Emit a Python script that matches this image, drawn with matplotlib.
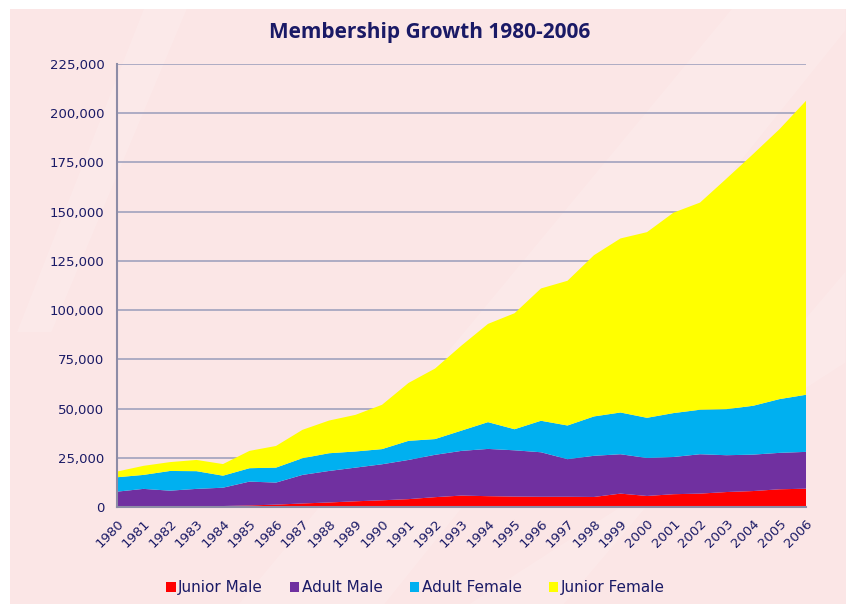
import matplotlib.pyplot as plt
from matplotlib.patches import Rectangle, Polygon, Patch
from matplotlib.ticker import FuncFormatter, MultipleLocator

years = list(range(1980, 2007))

# cumulative tops, turned into layer sizes below
junior_male = [0, 0, 0, 300, 500, 800, 1200, 1800, 2300, 2900, 3400, 4000, 5000, 5800,
               5500, 5300, 5200, 5200, 5100, 6800, 5600, 6500, 6800, 7600, 8100, 9000, 9300]
male_top = [7800, 9200, 8300, 9200, 9800, 12900, 12400, 16300, 18300, 20000, 21700, 23900,
            26500, 28500, 29500, 28800, 27800, 24300, 26000, 26800, 24900, 25400, 26800,
            26300, 26600, 27500, 28000]
female_top = [15100, 16300, 18300, 18200, 15900, 19700, 20000, 24800, 27300, 28200, 29400,
              33600, 34500, 38800, 43100, 39500, 43800, 41400, 46000, 48000, 45300, 47700,
              49400, 49700, 51400, 54800, 57000]
total = [18000, 20900, 22800, 23900, 21800, 28500, 31000, 39200, 43900, 46800, 51900, 63000,
         70300, 82000, 93000, 98400, 111000, 114900, 127900, 136400, 139600, 149500, 154600,
         166800, 179200, 191900, 206300]

adult_male = [m - j for m, j in zip(male_top, junior_male)]
adult_female = [f - m for f, m in zip(female_top, male_top)]
junior_female = [t - f for t, f in zip(total, female_top)]

labels = ['Junior Male', 'Adult Male', 'Adult Female', 'Junior Female']
colors = ['#ff0000', '#7030a0', '#00b0f0', '#ffff00']
navy = '#1a1a66'

fig = plt.figure(figsize=(8.54, 6.04), dpi=100, facecolor='white')

# pink card behind the chart, with a few pale diagonal bands
fig.patches.append(Rectangle((10 / 854, 0), 836 / 854, 1 - 9 / 604,
                             transform=fig.transFigure, facecolor='#fbe6e6',
                             edgecolor='none', zorder=-10))
bands = [[(0.28, 0.0), (0.45, 0.0), (0.99, 0.95), (0.99, 0.99), (0.86, 0.99)],
         [(0.55, 0.0), (0.66, 0.0), (0.99, 0.55), (0.99, 0.40)],
         [(0.02, 0.45), (0.06, 0.45), (0.22, 0.99), (0.17, 0.99)]]
for b in bands:
    fig.patches.append(Polygon(b, closed=True, transform=fig.transFigure,
                               facecolor='white', alpha=0.14, edgecolor='none', zorder=-9))

ax = fig.add_axes([117 / 854, 1 - 507 / 604, (806 - 117) / 854, (507 - 64) / 604])
ax.set_facecolor('none')

ax.stackplot(years, junior_male, adult_male, adult_female, junior_female,
             colors=colors, linewidth=0, zorder=3)

ax.set_xlim(1980, 2006)
ax.set_ylim(0, 225000)
ax.yaxis.set_major_locator(MultipleLocator(25000))
ax.yaxis.set_major_formatter(FuncFormatter(lambda v, p: f'{int(v):,}'))
ax.grid(axis='y', color='#adacc4', linewidth=1.4, zorder=1)
ax.set_axisbelow(True)

ax.set_xticks(years)
ax.set_xticklabels([str(y) for y in years], rotation=45, ha='right', rotation_mode='anchor')
ax.tick_params(axis='both', length=0, colors=navy, labelsize=9.5)
ax.tick_params(axis='y', pad=9)
ax.tick_params(axis='x', pad=7)

for side in ['top', 'right']:
    ax.spines[side].set_visible(False)
for side in ['left', 'bottom']:
    ax.spines[side].set_color('#8d8ca6')
    ax.spines[side].set_linewidth(1.5)
    ax.spines[side].set_zorder(4)

fig.text(0.503, 0.947, 'Membership Growth 1980-2006', ha='center', va='center',
         fontsize=15, fontweight='bold', color=navy, family='Open Sans')

handles = [Patch(facecolor=c, edgecolor='none') for c in colors]
fig.legend(handles, labels, loc='center', bbox_to_anchor=(0.4865, 0.0265), ncol=4,
           frameon=False, fontsize=11, labelcolor=navy, handlelength=0.6,
           handleheight=0.7, handletextpad=0.15, columnspacing=1.8)

fig.savefig('out.png', dpi=100, facecolor='white')
